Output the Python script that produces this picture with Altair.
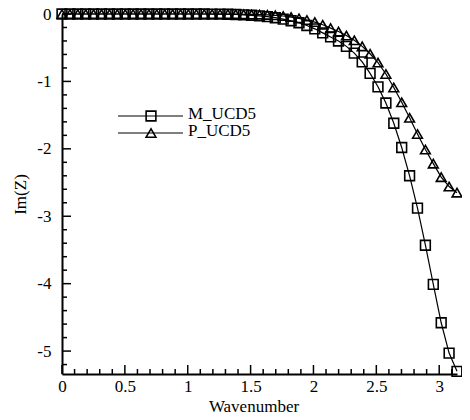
import altair as alt
import pandas as pd

wavenumber = [0, 0.0628, 0.1257, 0.1885, 0.2513, 0.3142, 0.3770, 0.4398, 0.5027, 0.5655,
              0.6283, 0.6912, 0.7540, 0.8168, 0.8796, 0.9425, 1.0053, 1.0681, 1.1310, 1.1938,
              1.2566, 1.3195, 1.3823, 1.4451, 1.5080, 1.5708, 1.6336, 1.6965, 1.7593, 1.8221,
              1.8850, 1.9478, 2.0106, 2.0735, 2.1363, 2.1991, 2.2619, 2.3248, 2.3876, 2.4504,
              2.5133, 2.5761, 2.6389, 2.7018, 2.7646, 2.8274, 2.8903, 2.9531, 3.0159, 3.0788,
              3.1416]

m_ucd5 = [0, 0, 0, 0, 0, 0, 0, 0, 0, 0,
          0, 0, 0, 0, 0, 0, 0, 0, 0, -0.001,
          -0.002, -0.004, -0.007, -0.012, -0.019, -0.028, -0.04, -0.055, -0.075, -0.10,
          -0.13, -0.17, -0.22, -0.28, -0.34, -0.40, -0.48, -0.58, -0.71, -0.88,
          -1.08, -1.32, -1.62, -1.98, -2.40, -2.88, -3.43, -4.01, -4.58, -5.03,
          -5.30]

p_ucd5 = [0, 0, 0, 0, 0, 0, 0, 0, 0, 0,
          0, 0, 0, 0, 0, 0, 0, 0, 0, 0,
          -0.001, -0.002, -0.003, -0.005, -0.007, -0.010, -0.014, -0.02, -0.03, -0.045,
          -0.065, -0.09, -0.12, -0.16, -0.21, -0.26, -0.32, -0.39, -0.48, -0.59,
          -0.72, -0.89, -1.09, -1.31, -1.54, -1.78, -2.01, -2.22, -2.42, -2.56,
          -2.65]

series_names = ["M_UCD5", "P_UCD5"]
series_shapes = ["square", "triangle-up"]

x_major = [0, 0.5, 1, 1.5, 2, 2.5, 3]
x_minor = [0.1, 0.2, 0.3, 0.4, 0.6, 0.7, 0.8, 0.9, 1.1, 1.2, 1.3, 1.4, 1.6, 1.7, 1.8, 1.9,
           2.1, 2.2, 2.3, 2.4, 2.6, 2.7, 2.8, 2.9, 3.1]
y_major = [0, -1, -2, -3, -4, -5]
y_minor = [-0.2, -0.4, -0.6, -0.8, -1.2, -1.4, -1.6, -1.8, -2.2, -2.4, -2.6, -2.8,
           -3.2, -3.4, -3.6, -3.8, -4.2, -4.4, -4.6, -4.8, -5.2]

W, H = 395, 360
FONT = "Liberation Serif, Times New Roman, serif"

rows = []
for name, vals in zip(series_names, [m_ucd5, p_ucd5]):
    for k, v in zip(wavenumber, vals):
        rows.append({"k": k, "v": v, "s": name})
df = pd.DataFrame(rows)

xs = alt.Scale(domain=[0, 3.1416], nice=False, zero=False)
ys = alt.Scale(domain=[-5.34, 0.0], nice=False, zero=False)

xax = alt.Axis(values=x_major, labelExpr="'' + datum.value", ticks=False, grid=False,
               domainWidth=2, domainColor="black", labelPadding=4, labelFlush=False,
               title="Wavenumber", titleY=37, titleBaseline="alphabetic", titleX=W / 2 - 6)
yax = alt.Axis(values=y_major, labelExpr="'' + datum.value", ticks=False, grid=False,
               domainWidth=2, domainColor="black", labelPadding=11, labelFlush=False,
               title="Im(Z)", titleX=-37, titleY=H / 2, titleBaseline="alphabetic",
               titleAngle=-90)

base = alt.Chart(df)
lines = base.mark_line(color="black", strokeWidth=1.2).encode(
    x=alt.X("k:Q", scale=xs, axis=xax),
    y=alt.Y("v:Q", scale=ys, axis=yax),
    detail="s:N",
)
points = base.mark_point(filled=False, color="black", strokeWidth=1.6, size=95, opacity=1).encode(
    x=alt.X("k:Q", scale=xs),
    y=alt.Y("v:Q", scale=ys),
    shape=alt.Shape("s:N", scale=alt.Scale(domain=series_names, range=series_shapes), legend=None),
)

def xticks(vals, length):
    return alt.Chart(pd.DataFrame({"t": vals})).mark_rule(color="black", strokeWidth=1.5).encode(
        x=alt.X("t:Q", scale=xs), y=alt.value(H), y2=alt.value(H - length))

def yticks(vals, length):
    return alt.Chart(pd.DataFrame({"t": vals})).mark_rule(color="black", strokeWidth=1.5).encode(
        y=alt.Y("t:Q", scale=ys), x=alt.value(0), x2=alt.value(length))

# legend
leg_layers = []
for i, (name, shape) in enumerate(zip(series_names, series_shapes)):
    yy = 102 + i * 17
    d = pd.DataFrame({"s": [name]})
    leg_layers.append(alt.Chart(d).mark_rule(color="black", strokeWidth=1.2).encode(
        x=alt.value(56), x2=alt.value(121), y=alt.value(yy)))
    leg_layers.append(alt.Chart(d).mark_point(filled=False, color="black", strokeWidth=1.6,
                                              size=95, shape=shape, opacity=1).encode(
        x=alt.value(89), y=alt.value(yy)))
    leg_layers.append(alt.Chart(d).mark_text(align="left", baseline="middle", font=FONT,
                                             fontSize=17, color="black").encode(
        x=alt.value(126), y=alt.value(yy - 2), text="s:N"))

chart = alt.layer(
    lines, points,
    xticks(x_major, 9), xticks(x_minor, 5),
    yticks(y_major, 9), yticks(y_minor, 5),
    *leg_layers,
).properties(
    width=W, height=H,
    autosize=alt.AutoSizeParams(type="none"),
    padding={"left": 54, "top": 6, "right": 5, "bottom": 46},
).configure_view(stroke=None).configure_axis(
    labelFont=FONT, titleFont=FONT, labelFontSize=17, titleFontSize=17,
    labelColor="black", titleColor="black", titleFontWeight="normal",
)

chart.save("out.html", embed_options={"renderer": "svg", "actions": False})
